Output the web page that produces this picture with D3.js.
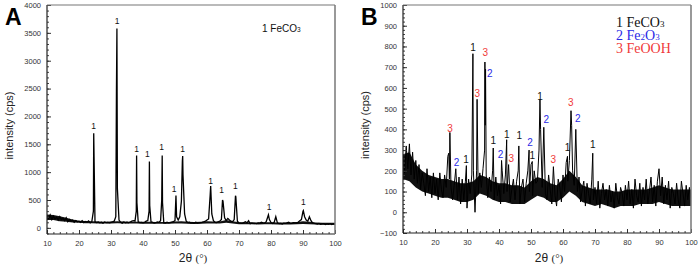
<!DOCTYPE html>
<html>
<head>
<meta charset="utf-8">
<script src="https://cdn.jsdelivr.net/npm/d3@7"></script>
<style>
body { margin: 0; background: #fff; }
svg { display: block; font-family: Arial, "Liberation Sans", sans-serif; }
</style>
</head>
<body>
<div id="chart"></div>
<script>
// both scans were sampled on the same 2-theta grid
var angleStart = 10, angleStep = 0.5;
var bandStep = 2;

// panel A, intensity (cps) per grid step, 10..100
var intensityA = [
    200,170,230,150,210,160,190,140,200,150,
    170,130,180,110,150,120,140,100,130,110,
    120,100,130,95,115,100,125,90,110,300,
    110,95,105,90,100,85,105,95,100,90,
    100,110,120,200,700,140,100,85,105,90,
    100,90,105,120,130,120,1300,110,95,100,
    90,100,120,130,1190,110,100,85,95,105,
    100,130,1300,90,85,100,90,95,105,110,
    130,200,140,200,480,950,250,120,95,100,
    85,95,90,100,85,90,95,100,110,120,
    140,160,600,250,130,100,95,110,120,150,
    480,180,130,170,140,120,110,150,560,120,
    90,85,80,95,110,90,130,75,85,80,
    80,75,90,85,100,90,85,110,200,150,
    95,80,100,200,90,75,80,70,85,80,
    90,100,85,80,95,90,85,100,130,150,
    300,200,140,120,200,130,90,80,75,70,
    80,65,70,75,60,70,65,75,60,70,
    65
];
// peak tops that fall between grid steps [angle, cps]
var peaksA = [
    [24.6,1700],[31.7,2450],[31.85,3580],[37.9,300],[38.1,450],
    [41.9,300],[42.1,400],[45.85,500],[46.1,450],[50.3,580],
    [52.3,1200],[52.4,1290],[61.15,750],[64.85,500],[68.9,575],
    [79.2,235],[90.1,310]
];
var bandLowA = [140,140,120,110,95,90,85,85,80,80,80,85,80,80,80,75,75,75,75,75,80,80,75,70,75,80,80,80,90,80,65,65,65,60,65,65,60,60,60,65,70,65,60,55,55,55];
var bandHighA = [240,230,210,180,150,130,125,120,115,110,115,120,115,110,110,110,110,105,105,105,115,120,110,105,110,120,115,115,140,120,100,100,100,95,100,100,95,95,95,105,120,110,95,90,90,90];
// phase number, angle, cps of text baseline
var labelsA = [
    [1,24.6,1766],[1,31.9,3653],[1,38.0,1365],[1,41.4,1275],[1,45.8,1389],
    [1,49.7,647],[1,52.4,1365],[1,61.1,796],[1,64.6,629],[1,68.9,689],
    [1,79.4,317],[1,90.1,419]
];

// panel B
var intensityB = [
    280,190,320,210,330,180,290,160,250,140,
    230,110,190,140,80,210,100,170,70,190,
    90,160,60,190,110,70,180,120,270,160,
    120,60,130,210,60,170,40,160,60,150,
    20,160,90,180,200,0,200,90,190,120,
    210,300,180,70,170,100,200,60,170,80,
    130,40,200,90,180,100,230,50,110,160,
    60,150,200,40,120,160,50,140,200,100,
    230,80,200,140,150,300,400,120,410,90,
    60,180,110,40,220,80,30,160,120,50,
    180,100,240,150,250,490,200,130,400,100,
    170,50,110,150,30,140,90,40,160,60,
    120,40,150,20,90,140,60,110,30,130,
    50,100,20,140,70,40,120,90,30,130,
    60,150,40,110,20,160,80,50,140,30,
    120,60,160,40,100,170,50,130,30,150,
    210,80,170,40,130,60,150,20,120,90,
    40,140,60,20,150,90,30,130,60,120,
    70
];
var peaksB = [
    [24.3,285],[24.65,385],[29.8,225],[31.85,765],[33.15,545],
    [35.6,725],[35.7,420],[35.8,690],[38.2,310],[40.8,250],
    [42.4,350],[46.2,320],[49.4,300],[50.4,245],[52.8,545],
    [61.4,270],[62.7,420],[69.3,285]
];
var bandLowB = [160,150,120,100,90,80,70,70,60,50,50,60,90,80,60,50,50,40,40,40,60,80,70,50,50,70,100,80,50,40,30,40,30,20,30,30,30,40,40,40,50,40,30,30,30,30];
var bandHighB = [280,290,230,200,180,170,160,160,150,140,140,150,180,170,150,140,140,130,130,120,150,170,160,140,130,160,200,170,130,120,110,110,110,100,100,110,110,110,110,120,130,120,110,110,110,110];
var labelsB = [
    [3,24.7,389],[2,26.7,224],[1,29.7,239],[1,31.9,779],[3,33.2,558],
    [3,35.7,752],[2,37.1,655],[1,38.2,327],[2,40.5,263],[1,42.4,360],
    [3,43.8,244],[1,46.3,352],[2,49.7,321],[1,50.4,256],[1,52.8,544],
    [2,54.8,429],[3,57.0,239],[1,61.4,295],[3,62.4,511],[2,64.6,434],
    [1,69.3,310]
];

var xTicks = [10,20,30,40,50,60,70,80,90,100];
var yTicksA = [0,500,1000,1500,2000,2500,3000,3500,4000];
var yTicksB = [-100,0,100,200,300,400,500,600,700,800,900,1000];

var phaseNames = ["FeCO", "Fe", "FeOOH"];
var phaseColor = { 1: "#111", 2: "#2a2ae6", 3: "#f03a3a" };

var width = 699, height = 267;

var svg = d3.select("#chart").append("svg")
    .attr("width", width)
    .attr("height", height);

function DrawPanel(id, box, yDomain, yTicks, yMinorStep, values, peaks, bandLow, bandHigh, lineW, labels, labelSize) {
    var g = svg.append("g");
    var x = d3.scaleLinear().domain([10, 100]).range([box.left, box.right]);
    var y = d3.scaleLinear().domain(yDomain).range([box.bottom, box.top]);

    var pts = values.map(function (v, i) { return [angleStart + i * angleStep, v]; })
        .concat(peaks)
        .sort(function (a, b) { return a[0] - b[0]; });

    g.append("clipPath").attr("id", "clip" + id)
        .append("rect")
        .attr("x", box.left).attr("y", box.top)
        .attr("width", box.right - box.left).attr("height", box.bottom - box.top);

    // solid core of the noisy baseline
    g.append("path")
        .datum(bandLow)
        .attr("clip-path", "url(#clip" + id + ")")
        .attr("fill", "#111")
        .attr("d", d3.area()
            .x(function (d, i) { return x(angleStart + i * bandStep); })
            .y0(function (d) { return y(d); })
            .y1(function (d, i) { return y(bandHigh[i]); }));

    g.append("path")
        .datum(pts)
        .attr("clip-path", "url(#clip" + id + ")")
        .attr("fill", "none")
        .attr("stroke", "#000")
        .attr("stroke-width", lineW)
        .attr("stroke-linejoin", "miter")
        .attr("d", d3.line().x(function (d) { return x(d[0]); }).y(function (d) { return y(d[1]); }));

    // minor ticks first, then the major ones with labels
    var minorY = d3.range(yDomain[0] < -50 ? -100 : 0, yDomain[1] + 1, yMinorStep);
    g.append("g").attr("transform", "translate(" + box.left + ",0)")
        .call(d3.axisLeft(y).tickValues(minorY).tickSize(-2).tickFormat(""))
        .call(function (a) { a.select(".domain").remove(); a.selectAll("line").attr("stroke", "#444"); });
    g.append("g").attr("transform", "translate(0," + box.bottom + ")")
        .call(d3.axisBottom(x).tickValues(d3.range(10, 101, 2)).tickSize(-2).tickFormat(""))
        .call(function (a) { a.select(".domain").remove(); a.selectAll("line").attr("stroke", "#444"); });

    g.append("g").attr("transform", "translate(" + box.left + ",0)")
        .call(d3.axisLeft(y).tickValues(yTicks).tickSize(-4).tickPadding(6).tickFormat(d3.format("d")))
        .call(function (a) {
            a.select(".domain").remove();
            a.selectAll("line").attr("stroke", "#333");
            a.selectAll("text").attr("font-size", "7.5px").attr("fill", "#333").attr("font-family", "Arial, sans-serif");
        });
    g.append("g").attr("transform", "translate(0," + box.bottom + ")")
        .call(d3.axisBottom(x).tickValues(xTicks).tickSize(-4).tickPadding(7).tickFormat(d3.format("d")))
        .call(function (a) {
            a.select(".domain").remove();
            a.selectAll("line").attr("stroke", "#333");
            a.selectAll("text").attr("font-size", "7.5px").attr("fill", "#333").attr("font-family", "Arial, sans-serif");
        });

    // frame: bottom and left dark, top and right gray
    g.append("line").attr("x1", box.left).attr("x2", box.right).attr("y1", box.bottom).attr("y2", box.bottom)
        .attr("stroke", "#222").attr("stroke-width", 1.2);
    g.append("line").attr("x1", box.left).attr("x2", box.left).attr("y1", box.top).attr("y2", box.bottom)
        .attr("stroke", "#222").attr("stroke-width", 1.2);
    g.append("line").attr("x1", box.left).attr("x2", box.right).attr("y1", box.top).attr("y2", box.top)
        .attr("stroke", "#777").attr("stroke-width", 1.2);
    g.append("line").attr("x1", box.right).attr("x2", box.right).attr("y1", box.top).attr("y2", box.bottom)
        .attr("stroke", "#777").attr("stroke-width", 1.5);

    g.selectAll("text.peak")
        .data(labels)
        .enter().append("text")
        .attr("class", "peak")
        .attr("x", function (d) { return x(d[1]); })
        .attr("y", function (d) { return y(d[2]); })
        .attr("text-anchor", "middle")
        .attr("font-size", labelSize)
        .attr("fill", function (d) { return phaseColor[d[0]]; })
        .text(function (d) { return d[0]; });

    // axis titles
    var xt = g.append("text")
        .attr("x", (box.left + box.right) / 2 + 2)
        .attr("y", 262)
        .attr("text-anchor", "middle")
        .attr("font-size", "12px")
        .attr("fill", "#222");
    xt.append("tspan").text("2θ ");
    xt.append("tspan").attr("font-family", "'Liberation Serif', serif").attr("font-size", "11px").text("(°)");

    g.append("text")
        .attr("transform", "translate(" + (box.left - 34) + "," + ((box.top + box.bottom) / 2 + 6) + ") rotate(-90)")
        .attr("text-anchor", "middle")
        .attr("font-size", "11px")
        .attr("fill", "#222")
        .text("intensity (cps)");

    g.append("text")
        .attr("x", box.left - 42)
        .attr("y", 25)
        .attr("font-size", "23px")
        .attr("font-weight", "bold")
        .attr("fill", "#000")
        .text(id);
    return { x: x, y: y, g: g };
}

var pA = DrawPanel("A", { left: 47, right: 335, top: 5, bottom: 234 }, [-110, 4000], yTicksA, 100,
    intensityA, peaksA, bandLowA, bandHighA, 1.3, labelsA, "8.5px");
var pB = DrawPanel("B", { left: 403, right: 691, top: 5, bottom: 233 }, [-100, 1000], yTicksB, 20,
    intensityB, peaksB, bandLowB, bandHighB, 1, labelsB, "10px");

// legend A: sans, one phase
var legA = pA.g.append("text").attr("x", 262).attr("y", 32).attr("font-size", "10px").attr("fill", "#111");
legA.append("tspan").text("1 " + phaseNames[0]);
legA.append("tspan").attr("font-size", "6.5px").text("3");

// legend B: serif, three phases
var legRows = [
    [1, phaseNames[0], "3", ""],
    [2, phaseNames[1], "2", "O"],
    [3, phaseNames[2], "", ""]
];
legRows.forEach(function (r, i) {
    var t = pB.g.append("text")
        .attr("x", 616)
        .attr("y", 27 + i * 13)
        .attr("font-family", "'Liberation Serif', 'Times New Roman', serif")
        .attr("font-size", "14px")
        .attr("fill", phaseColor[r[0]]);
    t.append("tspan").text(r[0] + " " + r[1]);
    if (r[2]) t.append("tspan").attr("font-size", "9px").text(r[2]);
    if (r[3]) {
        t.append("tspan").text(r[3]);
        t.append("tspan").attr("font-size", "9px").text("3");
    }
});
</script>
</body>
</html>
